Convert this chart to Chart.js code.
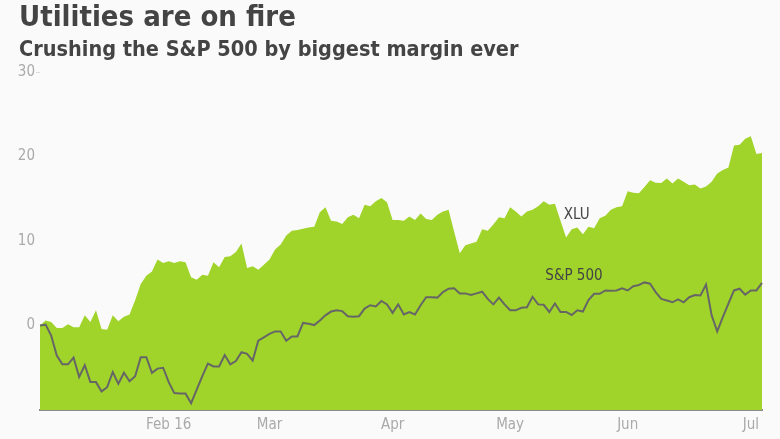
<!DOCTYPE html>
<html>
<head>
<meta charset="utf-8">
<script src="https://cdn.jsdelivr.net/npm/chart.js"></script>
<style>
    body { margin: 0; background: #fafafa; }
    #wrap { position: relative; width: 780px; height: 439px; overflow: hidden; }
    .title, .subtitle {
        position: absolute;
        left: 19px;
        font-family: "DejaVu Sans Condensed", "DejaVu Sans", sans-serif;
        font-weight: bold;
        color: #444;
        white-space: nowrap;
    }
    .title { top: 2px; font-size: 29px; line-height: 29px; }
    .subtitle { top: 38px; font-size: 21.5px; line-height: 21.5px; }
    canvas { position: absolute; left: 0; top: 0; }
</style>
</head>
<body>
<div id="wrap">
    <canvas id="chartUtilities" width="780" height="439"></canvas>
    <div class="title">Utilities are on fire</div>
    <div class="subtitle">Crushing the S&amp;P 500 by biggest margin ever</div>
</div>
<script>
// % change since Dec 31 2015, one value per trading day
const xluValues = [
    0, 0.6, 0.4, -0.3, -0.3, 0.15, -0.2, -0.2, 1.2, 0.4,
    1.8, -0.4, -0.5, 1.2, 0.5, 1.05, 1.3, 3.0, 4.9, 5.9,
    6.4, 7.8, 7.4, 7.6, 7.4, 7.6, 7.5, 5.7, 5.4, 6.0,
    5.9, 7.5, 6.9, 8.1, 8.2, 8.7, 9.7, 6.8, 7.0, 6.6,
    7.2, 7.8, 9.0, 9.6, 10.65, 11.2, 11.3, 11.45, 11.6, 11.7,
    13.4, 14.0, 12.4, 12.3, 12.0, 12.8, 13.1, 12.7, 14.3, 14.1,
    14.7, 15.1, 14.6, 12.5, 12.5, 12.4, 12.9, 12.5, 13.25, 12.6,
    12.5, 13.1, 13.5, 13.7, 11.1, 8.55, 9.5, 9.7, 9.9, 11.4,
    11.2, 11.95, 12.8, 12.7, 14.0, 13.5, 12.9, 13.5, 13.7, 14.1,
    14.7, 14.3, 14.4, 12.4, 10.4, 11.4, 11.6, 10.8, 11.7, 11.5,
    12.7, 13.0, 13.7, 14.0, 14.1, 15.9, 15.7, 15.65, 16.4, 17.2,
    16.9, 16.85, 17.4, 16.8, 17.4, 17.0, 16.6, 16.7, 16.2, 16.45,
    17.0, 18.0, 18.4, 18.7, 21.3, 21.4, 22.1, 22.4, 20.3, 20.4
];

const spxValues = [
    0, 0.1, -1.2, -3.55, -4.6, -4.6, -3.8, -6.1, -4.7, -6.7,
    -6.7, -7.8, -7.3, -5.5, -6.9, -5.6, -6.6, -6.0, -3.75, -3.75,
    -5.6, -5.1, -5.0, -6.7, -8.0, -8.05, -8.05, -9.2, -7.6, -6.0,
    -4.5, -4.85, -4.85, -3.5, -4.6, -4.2, -3.15, -3.35, -4.15, -1.8,
    -1.4, -1.0, -0.7, -0.7, -1.8, -1.3, -1.3, 0.3, 0.2, 0.05,
    0.6, 1.2, 1.65, 1.8, 1.7, 1.1, 1.05, 1.1, 2.0, 2.4,
    2.25, 2.9, 2.5, 1.5, 2.5, 1.3, 1.6, 1.3, 2.4, 3.35,
    3.35, 3.3, 3.95, 4.35, 4.4, 3.8, 3.8, 3.6, 3.8, 4.0,
    3.15, 2.5, 3.3, 2.5, 1.8, 1.8, 2.1, 2.15, 3.4, 2.5,
    2.45, 1.6, 2.6, 1.6, 1.6, 1.25, 1.8, 1.65, 3.0, 3.75,
    3.75, 4.15, 4.1, 4.15, 4.4, 4.15, 4.65, 4.8, 5.1, 4.95,
    3.95, 3.15, 2.95, 2.75, 3.1, 2.75, 3.35, 3.6, 3.55, 4.85,
    1.2, -0.7, 1.0, 2.6, 4.15, 4.35, 3.65, 4.15, 4.15, 5.05
];

// month tick labels and the trading day they sit on
const monthLabels = ['Feb 16', 'Mar', 'Apr', 'May', 'Jun', 'Jul'];
const monthIndex = [23, 41, 63, 84, 105, 127];

const yTicks = [-10, 0, 10, 20, 30];

// series name labels inside the plot (trading day, % value)
const seriesNames = ['XLU', 'S&P 500'];
const seriesNameAt = [[95.9, 13.1], [95.4, 5.8]];

const labelFont = '"DejaVu Sans Condensed", "DejaVu Sans", sans-serif';

const seriesLabelPlugin = {
    id: 'seriesLabels',
    afterDatasetsDraw(chart) {
        const { ctx, scales } = chart;
        ctx.save();
        ctx.font = '15px ' + labelFont;
        ctx.fillStyle = '#444';
        ctx.textAlign = 'center';
        ctx.textBaseline = 'middle';
        seriesNames.forEach((name, i) => {
            const x = scales.x.getPixelForValue(seriesNameAt[i][0]);
            const y = scales.y.getPixelForValue(seriesNameAt[i][1]);
            ctx.fillText(name, x, y);
        });
        ctx.restore();
    }
};

const ctx = document.getElementById('chartUtilities');

new Chart(ctx, {
    type: 'line',
    data: {
        labels: xluValues.map((_, i) => i),
        datasets: [{
            label: 'S&P 500',
            data: spxValues,
            borderColor: '#666',
            borderWidth: 2,
            pointRadius: 0,
            tension: 0,
            fill: false,
            order: 0
        }, {
            label: 'XLU',
            data: xluValues,
            borderColor: '#a0d42a',
            backgroundColor: '#a0d42a',
            borderWidth: 0,
            pointRadius: 0,
            tension: 0,
            fill: 'start',
            order: 1
        }]
    },
    options: {
        responsive: false,
        animation: false,
        layout: { padding: { top: 72, right: 18, left: 0, bottom: 0 } },
        plugins: {
            legend: { display: false },
            tooltip: { enabled: false }
        },
        scales: {
            x: {
                type: 'category',
                offset: false,
                grid: { display: false, drawTicks: false },
                border: { display: true, color: '#8a8a8a', width: 2 },
                ticks: {
                    autoSkip: false,
                    maxRotation: 0,
                    padding: 6,
                    color: '#aaa',
                    font: { family: labelFont, size: 15 },
                    callback: (value, index) => {
                        const k = monthIndex.indexOf(index);
                        return k >= 0 ? monthLabels[k] : null;
                    }
                },
                afterFit: (scale) => { scale.height = 29; }
            },
            y: {
                min: -10,
                max: 30,
                afterBuildTicks: (scale) => {
                    scale.ticks = yTicks.map(v => ({ value: v }));
                },
                grid: {
                    drawOnChartArea: false,
                    drawTicks: true,
                    tickLength: 4,
                    color: (c) => c.tick && c.tick.value === 30 ? '#ddd' : 'rgba(0,0,0,0)'
                },
                border: { display: false },
                ticks: {
                    padding: 1,
                    color: '#aaa',
                    font: { family: labelFont, size: 15 },
                    callback: (value) => value === -10 ? '' : value
                },
                afterFit: (scale) => { scale.width = 40; }
            }
        }
    },
    plugins: [seriesLabelPlugin]
});
</script>
</body>
</html>
